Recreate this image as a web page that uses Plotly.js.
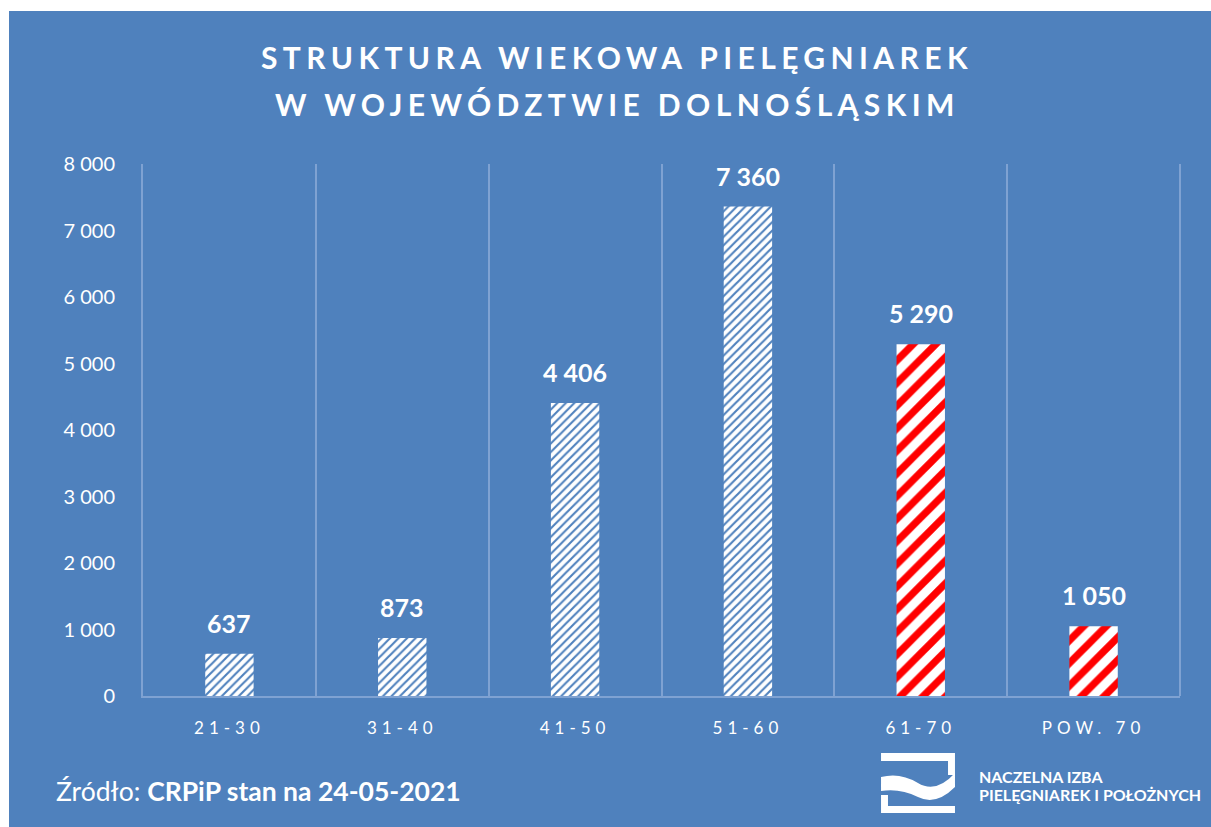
<!DOCTYPE html>
<html>
<head>
<meta charset="utf-8">
<script src="https://cdn.plot.ly/plotly-3.0.1.min.js"></script>
<style>
  body { margin: 0; background: #fff; }
  .xtick text { letter-spacing: 5px; }
</style>
</head>
<body>
<div id="chart" style="width:1211px;height:827px;"></div>
<script>
// age groups and number of nurses
const ageGroups = ['21-30', '31-40', '41-50', '51-60', '61-70', 'POW. 70'];
const nurses = [637, 873, 4406, 7360, 5290, 1050];
const olderGroups = ['61-70', 'POW. 70'];

const titleLines = ['STRUKTURA WIEKOWA PIELĘGNIAREK', 'W WOJEWÓDZTWIE DOLNOŚLĄSKIM'];
const sourceText = 'Źródło: <b>CRPiP stan na 24-05-2021</b>';
const logoLines = ['NACZELNA IZBA', 'PIELĘGNIAREK I POŁOŻNYCH'];

const BLUE = '#4F81BD';
const GRID = '#7FA2D2';

// plot area in pixels (used only to place decorations outside the axes)
const L = 143, R = 1180, T = 164, B = 696;
const px = x => (x - L) / (R - L);
const py = y => (B - y) / (B - T);
const pt = (x, y) => `${px(x).toFixed(4)},${py(y).toFixed(4)}`;

const fmt = v => String(v).replace(/\B(?=(\d{3})+(?!\d))/g, ' ');

let isOld = ageGroups.map(c => olderGroups.includes(c));

let trace = {
  type: 'bar',
  x: ageGroups,
  y: nurses,
  marker: {
    color: '#ffffff',
    line: { width: 0 },
    pattern: {
      shape: '/',
      fillmode: 'replace',
      bgcolor: '#ffffff',
      fgcolor: isOld.map(o => o ? '#ff0000' : BLUE),
      size: isOld.map(o => o ? 16 : 6),
      solidity: isOld.map(o => o ? 0.45 : 0.35)
    }
  },
  hoverinfo: 'skip'
};

let annotations = [];
// value labels above bars
ageGroups.forEach((c, i) => {
  annotations.push({
    x: c, y: nurses[i], xref: 'x', yref: 'y',
    text: '<b>' + fmt(nurses[i]) + '</b>',
    showarrow: false, yanchor: 'bottom', yshift: 14,
    font: { family: 'Lato', size: 25, color: '#ffffff' }
  });
});
// title lines
titleLines.forEach((t, i) => {
  annotations.push({
    x: px(617), y: py(i === 0 ? 57 : 104), xref: 'paper', yref: 'paper',
    text: '<b><span style="letter-spacing:5.4px">' + t + '</span></b>',
    showarrow: false, xanchor: 'center', yanchor: 'middle',
    font: { family: 'Lato', size: 30, color: '#ffffff' }
  });
});
// source
annotations.push({
  x: px(54), y: py(791), xref: 'paper', yref: 'paper',
  text: sourceText, showarrow: false, xanchor: 'left', yanchor: 'middle',
  font: { family: 'Lato', size: 26.5, color: '#ffffff' }
});
// logo text
logoLines.forEach((t, i) => {
  annotations.push({
    x: px(977), y: py(i === 0 ? 776 : 794), xref: 'paper', yref: 'paper',
    text: '<b>' + t + '</b>', showarrow: false, xanchor: 'left', yanchor: 'middle',
    font: { family: 'Lato', size: 16, color: '#ffffff' }
  });
});

let shapes = [
  // blue card
  { type: 'rect', xref: 'paper', yref: 'paper', layer: 'below',
    x0: px(9), x1: px(1215), y0: py(832), y1: py(11),
    fillcolor: BLUE, line: { width: 0 } },
  // right border of the plot area
  { type: 'line', xref: 'paper', yref: 'paper', layer: 'below',
    x0: 1, x1: 1, y0: 0, y1: 1, line: { color: GRID, width: 2 } },
  // logo: top bar with right hook
  { type: 'path', xref: 'paper', yref: 'paper', fillcolor: '#ffffff', line: { width: 0 },
    path: `M ${pt(881,753)} L ${pt(955,753)} L ${pt(955,775)} L ${pt(948,775)} L ${pt(948,761)} L ${pt(881,761)} Z` },
  // logo: wave
  { type: 'path', xref: 'paper', yref: 'paper', fillcolor: '#ffffff', line: { width: 0 },
    path: `M ${pt(881,777)} Q ${pt(900,772)} ${pt(918,783)} Q ${pt(936,794)} ${pt(955,773)} L ${pt(955,787)} Q ${pt(936,806)} ${pt(918,797)} Q ${pt(900,788)} ${pt(881,791)} Z` },
  // logo: bottom bar with left hook
  { type: 'path', xref: 'paper', yref: 'paper', fillcolor: '#ffffff', line: { width: 0 },
    path: `M ${pt(881,795)} L ${pt(888,795)} L ${pt(888,806)} L ${pt(955,806)} L ${pt(955,813)} L ${pt(881,813)} Z` }
];

let layout = {
  width: 1211, height: 827,
  margin: { l: L, r: 1211 - R, t: T, b: 827 - B, pad: 0 },
  paper_bgcolor: '#ffffff',
  plot_bgcolor: 'rgba(0,0,0,0)',
  separators: ', ',
  showlegend: false,
  bargap: 0.72,
  font: { family: 'Lato', color: '#ffffff' },
  xaxis: {
    type: 'category',
    tickson: 'boundaries',
    showgrid: true, gridcolor: GRID, gridwidth: 2,
    showline: true, linecolor: GRID, linewidth: 2,
    ticks: '', ticklabelstandoff: 16,
    tickfont: { family: 'Lato', size: 17, color: '#ffffff' },
    fixedrange: true
  },
  yaxis: {
    range: [0, 8000], dtick: 1000, tick0: 0,
    tickformat: ',d', separatethousands: true,
    showgrid: false, zeroline: false,
    showline: true, linecolor: GRID, linewidth: 2,
    ticks: '', ticklabelstandoff: 22,
    tickfont: { family: 'Lato', size: 20, color: '#ffffff' },
    fixedrange: true
  },
  annotations: annotations,
  shapes: shapes
};

Plotly.newPlot('chart', [trace], layout, { displayModeBar: false, staticPlot: true });
</script>
</body>
</html>
